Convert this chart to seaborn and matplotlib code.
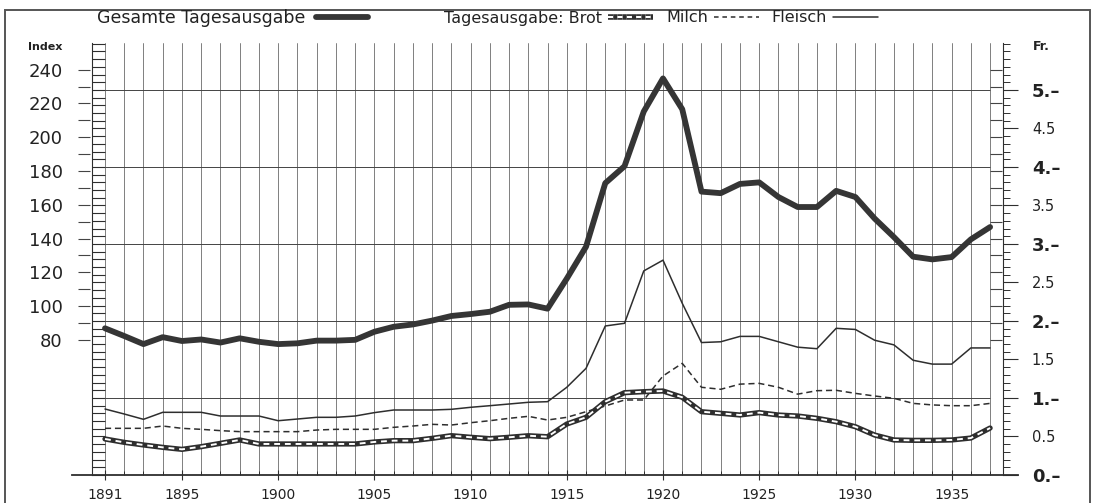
import numpy as np
import pandas as pd
import seaborn as sns
import matplotlib.pyplot as plt
import matplotlib.patheffects as pe
from matplotlib.lines import Line2D
from matplotlib.patches import Rectangle
from matplotlib.ticker import MultipleLocator, FixedLocator

# Werte in Franken (1891-1937)
jahre = list(range(1891, 1938))
gesamt = [1.905, 1.805, 1.70, 1.79, 1.74, 1.76, 1.72, 1.775, 1.73, 1.70,
          1.71, 1.745, 1.745, 1.755, 1.86, 1.925, 1.955, 2.005, 2.065, 2.09,
          2.12, 2.21, 2.215, 2.16, 2.55, 2.965, 3.79, 4.01, 4.72, 5.15,
          4.75, 3.68, 3.66, 3.78, 3.80, 3.61, 3.48, 3.48, 3.69, 3.61,
          3.33, 3.09, 2.835, 2.80, 2.83, 3.06, 3.22]
fleisch = [0.857, 0.792, 0.723, 0.814, 0.814, 0.814, 0.766, 0.766, 0.766, 0.705,
           0.727, 0.749, 0.749, 0.766, 0.81, 0.844, 0.844, 0.844, 0.853, 0.879,
           0.90, 0.922, 0.944, 0.952, 1.139, 1.385, 1.935, 1.97, 2.65, 2.79,
           2.23, 1.72, 1.73, 1.80, 1.80, 1.73, 1.66, 1.64, 1.905, 1.89,
           1.75, 1.69, 1.49, 1.44, 1.44, 1.65, 1.65]
milch = [0.606, 0.606, 0.606, 0.636, 0.606, 0.593, 0.576, 0.563, 0.563, 0.563,
         0.563, 0.584, 0.593, 0.593, 0.593, 0.619, 0.636, 0.658, 0.649, 0.679,
         0.705, 0.736, 0.762, 0.714, 0.749, 0.822, 0.896, 0.974, 0.974, 1.286,
         1.45, 1.139, 1.113, 1.18, 1.19, 1.139, 1.05, 1.095, 1.10, 1.06,
         1.026, 0.996, 0.93, 0.91, 0.90, 0.90, 0.93]
brot = [0.468, 0.424, 0.39, 0.359, 0.333, 0.368, 0.411, 0.455, 0.403, 0.403,
        0.403, 0.403, 0.403, 0.403, 0.429, 0.446, 0.446, 0.476, 0.511, 0.49,
        0.472, 0.49, 0.51, 0.497, 0.662, 0.749, 0.952, 1.069, 1.082, 1.091,
        1.009, 0.822, 0.801, 0.779, 0.81, 0.779, 0.766, 0.736, 0.692, 0.627,
        0.519, 0.455, 0.45, 0.45, 0.455, 0.48, 0.61]

jahr_ticks = [1891, 1895, 1900, 1905, 1910, 1915, 1920, 1925, 1930, 1935]
index_ticks = list(range(80, 241, 20))
fr_ticks = [i * 0.5 for i in range(11)]
fr_labels = ["0.–", "0.5", "1.–", "1.5", "2.–", "2.5", "3.–", "3.5", "4.–", "4.5", "5.–"]
index_pro_fr = 45.6   # Index 100 = ca. 2.19 Fr.

df = pd.DataFrame({"jahr": jahre, "gesamt": gesamt, "fleisch": fleisch,
                   "milch": milch, "brot": brot})

sns.set_theme(style="white")
plt.rcParams['font.family'] = ['DejaVu Sans']
ink = "#2e2e2e"

fig = plt.figure(figsize=(10.97, 5.03), dpi=100)
ax = fig.add_axes([72 / 1097, 28 / 503, 946 / 1097, 432 / 503])

x0, x1 = 1889.285, 1938.45
y1 = 5.61
ax.set_xlim(x0, x1)
ax.set_ylim(0, y1)

# Gitter
ax.xaxis.set_major_locator(FixedLocator(jahr_ticks))
ax.xaxis.set_minor_locator(FixedLocator(jahre))
ax.grid(axis="x", which="both", color="#6a6a6a", lw=0.6, zorder=0)
ax.grid(axis="y", visible=False)
ax.hlines([1, 2, 3, 4, 5], 1891, 1937, color="#444444", lw=0.7, zorder=1)

# Linien
sns.lineplot(data=df, x="jahr", y="fleisch", ax=ax, color=ink, lw=1.1, zorder=3)
sns.lineplot(data=df, x="jahr", y="milch", ax=ax, color=ink, lw=1.1,
             linestyle=(0, (4, 2.5)), zorder=3)
sns.lineplot(data=df, x="jahr", y="brot", ax=ax, color=ink, lw=3.8, zorder=4)
sns.lineplot(data=df, x="jahr", y="brot", ax=ax, color="white", lw=1.4,
             linestyle=(0, (3, 2.5)), zorder=5)
sns.lineplot(data=df, x="jahr", y="gesamt", ax=ax, color="#353535", lw=4.2, zorder=6)
ax.set_xlabel("")
ax.set_ylabel("")

# Achsen des Hauptdiagramms: linke "Leiter" und Zeitachse
for s in ["top", "right"]:
    ax.spines[s].set_visible(False)
ax.spines["left"].set_position(("data", 1890.324))
ax.spines["left"].set_color(ink)
ax.spines["left"].set_linewidth(0.8)
ax.spines["bottom"].set_color(ink)
ax.spines["bottom"].set_linewidth(1.3)
ax.yaxis.set_major_locator(MultipleLocator(0.1))
ax.tick_params(axis="y", which="major", left=True, right=False, direction="in",
               length=9.4, width=0.8, color=ink, labelleft=False)
ax.tick_params(axis="x", which="major", bottom=True, direction="inout", length=7,
               width=0.8, color=ink, labelsize=10, labelcolor="#222222", pad=6)
ax.tick_params(axis="x", which="minor", bottom=True, direction="in", length=3,
               width=0.7, color=ink)
ax.set_xticklabels([str(j) for j in jahr_ticks])

# Rechte Frankenachse
ax_r = ax.twinx()
ax_r.set_ylim(0, y1)
for s in ["top", "left", "bottom"]:
    ax_r.spines[s].set_visible(False)
ax_r.spines["right"].set_position(("data", 1937.67))
ax_r.spines["right"].set_color(ink)
ax_r.spines["right"].set_linewidth(0.8)
ax_r.set_yticks(fr_ticks)
ax_r.set_yticklabels(fr_labels)
ax_r.yaxis.set_minor_locator(MultipleLocator(0.1))
ax_r.tick_params(axis="y", which="major", direction="out", length=10.8, width=0.8,
                 color=ink, pad=10, labelcolor="#222222")
ax_r.tick_params(axis="y", which="minor", direction="out", length=5, width=0.7, color=ink)
for i, lab in enumerate(ax_r.get_yticklabels()):
    if i % 2 == 0:
        lab.set_fontsize(13)
        lab.set_fontweight("semibold")
    else:
        lab.set_fontsize(10.5)
ax_r.grid(False)

# Indexachse links (und Marken rechts)
ax_i = ax.twinx()
ax_i.set_ylim(0, y1 * index_pro_fr)
for s in ax_i.spines.values():
    s.set_visible(False)
ax_i.spines["left"].set_position(("data", 1889.597))
ax_i.spines["right"].set_position(("data", 1937.62))
ax_i.set_yticks(index_ticks)
ax_i.set_yticklabels([str(v) for v in index_ticks])
ax_i.yaxis.set_minor_locator(FixedLocator(list(range(90, 241, 20))))
ax_i.tick_params(axis="y", which="both", left=True, right=True, direction="in",
                 length=8.5, width=0.8, color="#444444", labelleft=True,
                 labelright=False, labelsize=13, labelcolor="#222222", pad=11)
ax_i.grid(False)

fig.text(28 / 1097, 1 - 47 / 503, "Index", fontsize=8, fontweight="bold",
         color="#222222", va="center")
fig.text(1033 / 1097, 1 - 46 / 503, "Fr.", fontsize=9, fontweight="bold",
         color="#222222", va="center")

# Legende
h_ges = Line2D([], [], color="#353535", lw=4.2)
h_brot = Line2D([], [], color="white", lw=1.5, linestyle=(0, (2.5, 2)), gapcolor=ink,
                path_effects=[pe.Stroke(linewidth=4.0, foreground=ink), pe.Normal()])
h_milch = Line2D([], [], color=ink, lw=1.1, linestyle=(0, (3, 2.5)))
h_fleisch = Line2D([], [], color=ink, lw=1.1)

leg1 = fig.legend([h_ges], ["Gesamte Tagesausgabe"], loc="center left",
                  bbox_to_anchor=(97 / 1097, 1 - 18 / 503), frameon=False,
                  markerfirst=False, fontsize=12.5, handlelength=3.0,
                  handletextpad=0.6, borderpad=0, borderaxespad=0)
for t in leg1.get_texts():
    t.set_color("#222222")
leg2 = fig.legend([h_brot, h_milch, h_fleisch],
                  ["Tagesausgabe: Brot", "Milch", "Fleisch"], ncol=3,
                  loc="center left", bbox_to_anchor=(444 / 1097, 1 - 18 / 503),
                  frameon=False, markerfirst=False, fontsize=11.5, handlelength=2.8,
                  handletextpad=0.4, columnspacing=0.8, borderpad=0, borderaxespad=0)
for t in leg2.get_texts():
    t.set_color("#222222")

# Rahmen
fig.patches.append(Rectangle((5 / 1097, -0.05), 1085 / 1097, (493 / 503) + 0.05,
                             transform=fig.transFigure, fill=False,
                             edgecolor="#555555", lw=1.4, zorder=0))

fig.savefig("out.png", dpi=100)
